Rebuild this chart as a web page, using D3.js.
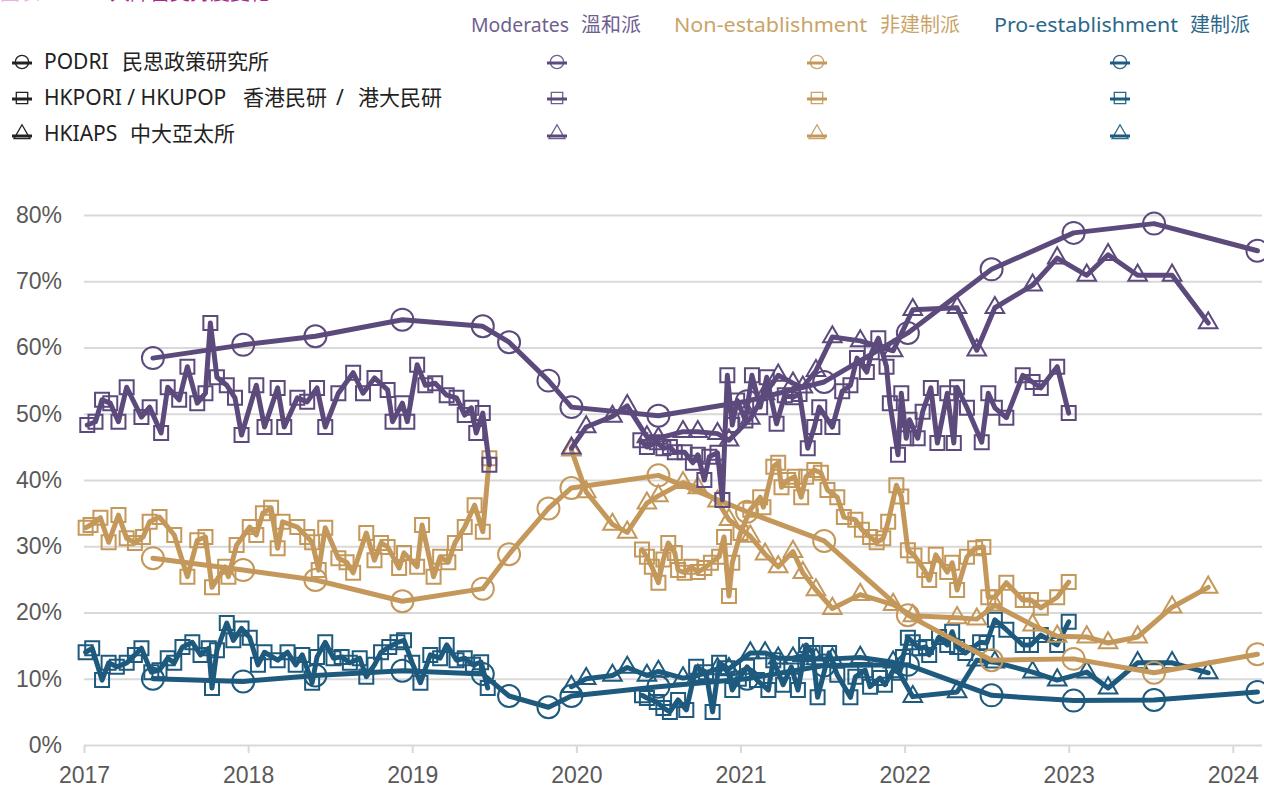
<!DOCTYPE html>
<html>
<head>
<meta charset="utf-8">
<script src="https://cdn.jsdelivr.net/npm/d3@7"></script>
<style>
  html, body { margin: 0; padding: 0; background: #fff; }
  svg { display: block; font-family: "Noto Sans", "Noto Sans CJK TC", sans-serif; }
</style>
</head>
<body>
<script>
// colours per camp
const colModerate = "#5d4a7c";
const colNonEst = "#c4985a";
const colProEst = "#1e5a7d";

const years = [2017, 2018, 2019, 2020, 2021, 2022, 2023, 2024];
const yTicks = [0, 10, 20, 30, 40, 50, 60, 70, 80];

// PODRI (circles)
const podriDates = [2017.42, 2017.97, 2018.41, 2018.94, 2019.43, 2019.59, 2019.83, 2019.97, 2020.50, 2021.04, 2021.51, 2022.02, 2022.53, 2023.03, 2023.52, 2024.15];
const podriModerate = [58.4, 60.4, 61.7, 64.2, 63.2, 60.8, 55.0, 51.0, 49.7, 51.9, 54.8, 62.2, 71.8, 77.3, 78.7, 74.6];
const podriNonEst = [28.2, 26.4, 24.9, 21.7, 23.6, 28.8, 35.7, 38.8, 40.7, 35.2, 30.8, 19.6, 12.8, 13.0, 10.9, 13.7];
const podriProEst = [10.0, 9.6, 10.5, 11.2, 10.7, 7.4, 5.7, 7.4, 8.8, 10.0, 12.0, 12.1, 7.5, 6.7, 6.8, 8.0];

// HKIAPS (triangles)
const hkiapsDates = [2019.97, 2020.06, 2020.22, 2020.31, 2020.43, 2020.50, 2020.65, 2020.74, 2020.86, 2020.93, 2021.06, 2021.15, 2021.23, 2021.32, 2021.38, 2021.46, 2021.56, 2021.73, 2021.93, 2022.05, 2022.32, 2022.44, 2022.55, 2022.78, 2022.93, 2023.11, 2023.24, 2023.42, 2023.63, 2023.85];
const hkiapsModerate = [44.8, 48.0, 49.6, 51.2, 46.5, 46.3, 47.3, 47.3, 47.0, 46.0, 49.3, 53.0, 55.8, 54.6, 54.0, 56.5, 61.6, 61.0, 59.5, 65.7, 66.0, 59.6, 66.0, 69.4, 73.5, 70.9, 74.0, 70.9, 70.9, 63.7];
const hkiapsNonEst = [44.5, 38.2, 33.3, 32.1, 36.5, 37.6, 39.6, 38.8, 36.8, 34.0, 31.5, 28.8, 26.9, 29.2, 26.0, 23.4, 20.6, 22.7, 21.2, 19.5, 19.2, 19.0, 21.1, 18.1, 16.4, 16.3, 15.4, 16.3, 20.8, 23.8];
const hkiapsProEst = [8.8, 10.0, 10.5, 11.7, 10.5, 11.1, 10.1, 10.5, 11.5, 11.5, 13.9, 13.9, 13.1, 13.1, 13.5, 13.0, 13.0, 13.2, 12.5, 7.3, 8.0, 12.8, 12.5, 11.0, 9.8, 11.0, 8.6, 12.4, 12.4, 10.9];

// HKPORI / HKUPOP (squares), [year, %], null = no polls
const hkporiModerate = [
  [2017.02,48.3],[2017.07,48.8],[2017.11,52.1],[2017.16,51.6],[2017.21,48.8],[2017.26,54.0],[2017.35,49.5],[2017.40,51.0],
  [2017.47,47.1],[2017.51,54.0],[2017.58,52.1],[2017.63,57.1],[2017.69,51.6],[2017.74,53.1],[2017.77,63.7],[2017.81,55.5],
  [2017.87,54.3],[2017.92,52.4],[2017.96,46.8],[2018.05,54.3],[2018.10,48.0],[2018.18,53.9],[2018.22,48.0],[2018.30,52.4],
  [2018.36,51.8],[2018.42,53.9],[2018.47,48.0],[2018.55,53.1],[2018.64,56.2],[2018.70,53.1],[2018.77,55.4],[2018.85,53.6],
  [2018.88,48.8],[2018.94,51.6],[2018.97,48.8],[2019.03,57.4],[2019.08,54.3],[2019.14,54.6],[2019.21,52.8],[2019.27,52.4],
  [2019.32,49.8],[2019.36,50.9],[2019.39,47.1],[2019.43,50.1],[2019.47,42.3],
  [2019.90,null],
  [2020.39,46.0],[2020.43,45.0],[2020.49,45.7],[2020.53,44.8],[2020.57,45.0],[2020.60,44.2],[2020.66,44.2],[2020.71,42.6],
  [2020.74,43.8],[2020.78,40.0],[2020.81,43.5],[2020.86,44.1],[2020.89,37.0],[2020.92,55.8],[2020.95,48.3],[2020.98,52.0],
  [2021.03,49.0],[2021.07,55.8],[2021.12,51.0],[2021.16,55.5],[2021.22,48.5],[2021.27,52.8],[2021.32,52.5],[2021.36,53.0],
  [2021.41,44.8],[2021.45,48.0],[2021.48,51.0],[2021.56,48.0],[2021.62,53.4],[2021.67,54.3],[2021.71,58.4],[2021.77,56.3],
  [2021.80,59.3],[2021.84,61.4],[2021.89,57.1],[2021.91,51.6],[2021.96,43.8],[2021.98,53.1],[2022.01,46.3],[2022.03,49.1],
  [2022.08,46.3],[2022.11,50.3],[2022.16,53.9],[2022.20,45.6],[2022.26,53.1],[2022.30,45.6],[2022.32,54.0],[2022.38,50.9],
  [2022.47,45.7],[2022.51,53.1],[2022.55,50.9],[2022.62,49.4],[2022.72,55.8],[2022.78,54.8],[2022.83,53.9],[2022.93,57.1],
  [2023.00,50.1]
];
const hkporiNonEst = [
  [2017.01,32.8],[2017.04,33.2],[2017.10,34.3],[2017.15,30.6],[2017.21,34.7],[2017.26,31.2],[2017.31,30.5],[2017.36,31.4],
  [2017.40,33.7],[2017.46,34.4],[2017.55,31.7],[2017.63,25.4],[2017.69,30.9],[2017.74,31.4],[2017.78,23.8],[2017.86,26.9],
  [2017.88,25.4],[2017.93,30.2],[2018.01,32.9],[2018.05,31.7],[2018.09,35.0],[2018.14,35.8],[2018.18,29.7],[2018.21,33.7],
  [2018.30,32.9],[2018.36,31.4],[2018.39,30.6],[2018.43,26.4],[2018.47,32.8],[2018.55,28.2],[2018.60,27.6],[2018.64,26.0],
  [2018.72,32.0],[2018.77,27.9],[2018.81,30.5],[2018.85,29.9],[2018.92,26.7],[2018.95,29.0],[2019.03,26.9],[2019.06,33.2],
  [2019.13,25.4],[2019.17,28.4],[2019.22,27.6],[2019.26,30.5],[2019.32,32.9],[2019.38,36.2],[2019.43,32.2],[2019.47,43.3],
  [2019.90,null],
  [2020.40,29.5],[2020.43,28.4],[2020.46,26.9],[2020.50,24.5],[2020.53,28.0],[2020.56,30.5],[2020.60,29.0],[2020.62,26.4],
  [2020.66,26.0],[2020.70,26.9],[2020.74,26.1],[2020.78,26.7],[2020.82,27.5],[2020.87,28.4],[2020.90,31.4],[2020.93,22.5],
  [2020.95,27.5],[2021.00,32.0],[2021.06,35.5],[2021.12,37.4],[2021.14,35.9],[2021.20,42.0],[2021.23,42.6],[2021.25,38.9],
  [2021.29,40.0],[2021.33,40.5],[2021.37,37.4],[2021.40,40.5],[2021.45,41.5],[2021.49,41.1],[2021.53,38.5],[2021.59,37.4],
  [2021.63,34.4],[2021.70,34.0],[2021.74,32.5],[2021.79,31.4],[2021.83,30.6],[2021.87,31.2],[2021.90,33.7],[2021.95,39.2],
  [2021.98,37.5],[2022.02,29.4],[2022.06,28.6],[2022.12,26.4],[2022.15,24.9],[2022.19,28.7],[2022.26,26.1],[2022.29,27.5],
  [2022.32,23.4],[2022.38,28.4],[2022.43,29.7],[2022.48,29.9],[2022.51,22.3],[2022.55,22.3],[2022.62,24.5],[2022.72,21.9],
  [2022.77,21.9],[2022.83,20.7],[2022.93,22.3],[2023.00,24.6]
];
const hkporiProEst = [
  [2017.01,14.0],[2017.05,14.6],[2017.11,9.8],[2017.15,12.4],[2017.20,11.8],[2017.26,12.4],[2017.31,13.6],[2017.35,14.6],
  [2017.41,11.0],[2017.46,11.3],[2017.51,13.1],[2017.55,12.4],[2017.60,14.8],[2017.66,15.5],[2017.71,13.6],[2017.76,14.6],
  [2017.78,8.6],[2017.81,14.3],[2017.87,18.4],[2017.91,15.8],[2017.96,17.6],[2018.01,16.2],[2018.06,12.1],[2018.10,14.0],
  [2018.18,12.8],[2018.24,14.0],[2018.29,12.1],[2018.33,13.6],[2018.39,9.4],[2018.42,13.3],[2018.47,15.5],[2018.52,13.1],
  [2018.57,13.3],[2018.62,12.4],[2018.68,13.1],[2018.72,10.3],[2018.77,12.1],[2018.81,14.0],[2018.86,14.8],[2018.91,15.5],
  [2018.95,15.8],[2019.00,12.4],[2019.05,9.4],[2019.11,13.6],[2019.17,13.1],[2019.21,15.1],[2019.27,12.8],[2019.32,13.1],
  [2019.37,12.1],[2019.42,12.5],[2019.46,8.6],
  [2019.90,null],
  [2020.40,7.5],[2020.43,7.1],[2020.49,6.5],[2020.53,5.6],[2020.57,5.0],[2020.62,6.8],[2020.67,5.3],[2020.73,11.8],
  [2020.79,11.0],[2020.83,5.0],[2020.87,12.4],[2020.92,11.6],[2020.95,8.3],[2020.99,10.0],[2021.04,11.8],[2021.10,9.8],
  [2021.17,8.3],[2021.20,12.8],[2021.26,9.1],[2021.31,11.8],[2021.35,8.3],[2021.40,15.1],[2021.44,13.9],[2021.47,7.2],
  [2021.54,13.9],[2021.59,10.6],[2021.67,7.2],[2021.70,10.3],[2021.76,11.3],[2021.79,8.8],[2021.85,10.1],[2021.88,9.1],
  [2021.93,11.3],[2021.97,10.9],[2021.99,13.3],[2022.02,16.2],[2022.05,15.5],[2022.09,14.6],[2022.13,14.8],[2022.15,13.6],
  [2022.21,16.3],[2022.26,15.1],[2022.29,17.1],[2022.32,14.8],[2022.37,13.9],[2022.46,15.5],[2022.50,15.4],[2022.55,18.9],
  [2022.62,17.4],[2022.72,15.1],[2022.77,15.1],[2022.83,16.6],[2022.93,15.1],[2023.00,18.6]
];

const width = 1264;
const height = 787;

const x = d3.scaleLinear().domain([2017, 2024.19]).range([84, 1264]);
const y = d3.scaleLinear().domain([0, 80]).range([745, 215]);

const svg = d3.select("body").append("svg")
  .attr("width", width)
  .attr("height", height);

// title, mostly above the top edge in the original
svg.append("text").attr("x", 0).attr("y", -0.5).attr("font-size", 20)
  .attr("fill", "#eab0e2").text("圖表一");
svg.append("text").attr("x", 90).attr("y", -0.5).attr("font-size", 20)
  .attr("fill", "#b0248e").text("三大陣營支持度變化");

// AXES
const tickFont = "'Liberation Sans', Arial, sans-serif";
const yAxis = d3.axisLeft(y).tickValues(yTicks).tickSize(-(1262 - 84)).tickPadding(22)
  .tickFormat(d => d + "%");
const gy = svg.append("g").attr("transform", "translate(84,0)").call(yAxis);
gy.select(".domain").remove();
gy.selectAll(".tick line").attr("stroke", "#d9d9d9").attr("stroke-width", 2);
gy.selectAll(".tick text").attr("fill", "#595959").attr("font-size", 23).attr("font-family", tickFont);

const xAxis = d3.axisBottom(x).tickValues(years).tickSize(8).tickPadding(14).tickFormat(d => d);
const gx = svg.append("g").attr("transform", "translate(0,745)").call(xAxis);
gx.select(".domain").remove();
gx.selectAll(".tick line").attr("stroke", "#d9d9d9").attr("stroke-width", 2);
gx.selectAll(".tick text").attr("fill", "#595959").attr("font-size", 23).attr("font-family", tickFont);

// MARKERS
const symbolOf = { circle: d3.symbolCircle, square: d3.symbolSquare, triangle: d3.symbolTriangle };
const sizeOf = { circle: 380, square: 196, triangle: 150 };

function drawSeries(points, color, shape) {
  const line = d3.line()
    .defined(d => d[1] != null)
    .x(d => x(d[0]))
    .y(d => y(d[1]));
  const g = svg.append("g");
  g.append("path")
    .datum(points)
    .attr("d", line)
    .attr("fill", "none")
    .attr("stroke", color)
    .attr("stroke-width", 5)
    .attr("stroke-linejoin", "round")
    .attr("stroke-linecap", "round");
  g.selectAll("path.mk")
    .data(points.filter(d => d[1] != null))
    .enter()
    .append("path")
    .attr("class", "mk")
    .attr("transform", d => `translate(${x(d[0])},${y(d[1])})`)
    .attr("d", d3.symbol().type(symbolOf[shape]).size(sizeOf[shape]))
    .attr("fill", "none")
    .attr("stroke", color)
    .attr("stroke-width", 2);
}

const zip = (dates, vals) => dates.map((d, i) => [d, vals[i]]);

// pro-establishment first, moderates on top
drawSeries(hkporiProEst, colProEst, "square");
drawSeries(zip(podriDates, podriProEst), colProEst, "circle");
drawSeries(zip(hkiapsDates, hkiapsProEst), colProEst, "triangle");

drawSeries(hkporiNonEst, colNonEst, "square");
drawSeries(zip(podriDates, podriNonEst), colNonEst, "circle");
drawSeries(zip(hkiapsDates, hkiapsNonEst), colNonEst, "triangle");

drawSeries(hkporiModerate, colModerate, "square");
drawSeries(zip(podriDates, podriModerate), colModerate, "circle");
drawSeries(zip(hkiapsDates, hkiapsModerate), colModerate, "triangle");

// LEGEND
function legendMark(cx, cy, shape, color, lineColor) {
  const sz = shape === "circle" ? 140 : shape === "square" ? 130 : 110;
  svg.append("path")
    .attr("transform", `translate(${cx},${cy})`)
    .attr("d", d3.symbol().type(symbolOf[shape]).size(sz))
    .attr("fill", "none")
    .attr("stroke", color)
    .attr("stroke-width", 1.3);
  const ly = shape === "triangle" ? cy + 2 : cy + 1;
  svg.append("line")
    .attr("x1", cx - 10).attr("x2", cx + 10)
    .attr("y1", ly).attr("y2", ly)
    .attr("stroke", lineColor).attr("stroke-width", 3);
}

const sources = [
  { shape: "circle", parts: [["PODRI", 44], ["民思政策研究所", 122]], y: 62 },
  { shape: "square", parts: [["HKPORI / HKUPOP", 44], ["香港民研", 243], ["/", 336], ["港大民研", 358]], y: 98 },
  { shape: "triangle", parts: [["HKIAPS", 44], ["中大亞太所", 130]], y: 134 }
];
sources.forEach(s => {
  legendMark(22, s.y, s.shape, "#222", "#222");
  s.parts.forEach(p => {
    svg.append("text").attr("x", p[1]).attr("y", s.y).attr("dy", "0.35em")
      .attr("font-size", 21).attr("fill", "#222").text(p[0]);
  });
});

const camps = [
  { en: "Moderates", enX: 471, enW: 98, zh: "溫和派", zhX: 581, mx: 557, text: "#6e5f8f", line: colModerate },
  { en: "Non-establishment", enX: 674, enW: 193, zh: "非建制派", zhX: 880, mx: 817, text: "#c9a468", line: colNonEst },
  { en: "Pro-establishment", enX: 994, enW: 184, zh: "建制派", zhX: 1190, mx: 1120, text: "#2c6889", line: colProEst }
];
camps.forEach(c => {
  svg.append("text").attr("x", c.enX).attr("y", 25).attr("dy", "0.35em")
    .attr("font-size", 20).attr("fill", c.text)
    .attr("textLength", c.enW).attr("lengthAdjust", "spacingAndGlyphs").text(c.en);
  svg.append("text").attr("x", c.zhX).attr("y", 25).attr("dy", "0.35em")
    .attr("font-size", 20).attr("fill", c.text).text(c.zh);
  sources.forEach(s => legendMark(c.mx, s.y, s.shape, c.text, c.line));
});
</script>
</body>
</html>
